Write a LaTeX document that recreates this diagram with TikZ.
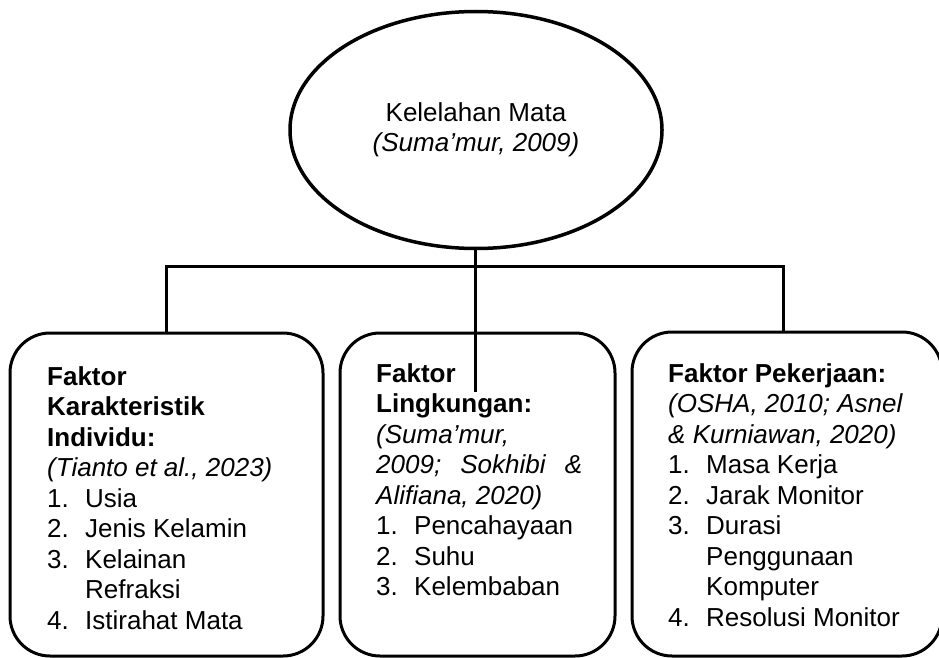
\documentclass[tikz,border=0pt]{standalone}
\usepackage{fontspec}
\setmainfont{Liberation Sans}
\usetikzlibrary{shapes.geometric}
\newcommand\numitem[1]{\makebox[38pt][l]{#1}}
\begin{document}
\begin{tikzpicture}[x=1pt,y=-1pt,
  boxnode/.style={draw, line width=3pt, rounded corners=40pt, inner sep=0pt},
  conn/.style={line width=3pt},
  txt/.style={anchor=base west, inner sep=0pt, font=\fontsize{26}{30.5}\selectfont},
  ovalnode/.style={ellipse, draw, line width=3.5pt, inner sep=0pt, align=center, font=\fontsize{26}{30.5}\selectfont}]
\useasboundingbox (0,0) rectangle (939,658);
% top ellipse
\node[ovalnode, minimum width=372pt, minimum height=237pt] (ell) at (476,130)
  {Kelelahan Mata\\\textit{(Suma’mur, 2009)}};
% boxes
\node[boxnode, minimum width=313pt, minimum height=323pt] (left) at (166.5,494.5) {};
\node[boxnode, minimum width=275pt, minimum height=323pt] (mid) at (477.5,494.5) {};
\node[boxnode, minimum width=310pt, minimum height=324pt] (right) at (787,494) {};
% connectors
\coordinate (hl) at (166,266);
\coordinate (hr) at (783,266);
\coordinate (midend) at (475,392);
\draw[conn] (ell.south -| midend) -- (midend);
\draw[conn] (left.north -| hl) -- (hl) -- (hr) -- (right.north -| hr);
% texts
\node[txt] (ltext) at (47,385) {\parbox[t]{270pt}{\raggedright
  \textbf{Faktor}\\
  \textbf{Karakteristik}\\
  \textbf{Individu:}\\
  \textit{(Tianto et al., 2023)}\\
  \numitem{1.}Usia\\
  \numitem{2.}Jenis Kelamin\\
  \numitem{3.}Kelainan\\
  \hspace*{38pt}Refraksi\\
  \numitem{4.}Istirahat Mata}};
\node[txt] (mtext) at (376,382) {\parbox[t]{230pt}{\raggedright
  \textbf{Faktor}\\
  \textbf{Lingkungan:}\\
  \textit{(Suma’mur,}\\
  \makebox[206pt][s]{\itshape 2009;\hfil Sokhibi\hfil \&}\\
  \textit{Alifiana, 2020)}\\
  \numitem{1.}Pencahayaan\\
  \numitem{2.}Suhu\\
  \numitem{3.}Kelembaban}};
\node[txt] (rtext) at (668,382) {\parbox[t]{265pt}{\raggedright
  \textbf{Faktor Pekerjaan:}\\
  \textit{(OSHA, 2010; Asnel}\\
  \textit{\& Kurniawan, 2020)}\\
  \numitem{1.}Masa Kerja\\
  \numitem{2.}Jarak Monitor\\
  \numitem{3.}Durasi\\
  \hspace*{38pt}Penggunaan\\
  \hspace*{38pt}Komputer\\
  \numitem{4.}Resolusi Monitor}};
\end{tikzpicture}
\end{document}
